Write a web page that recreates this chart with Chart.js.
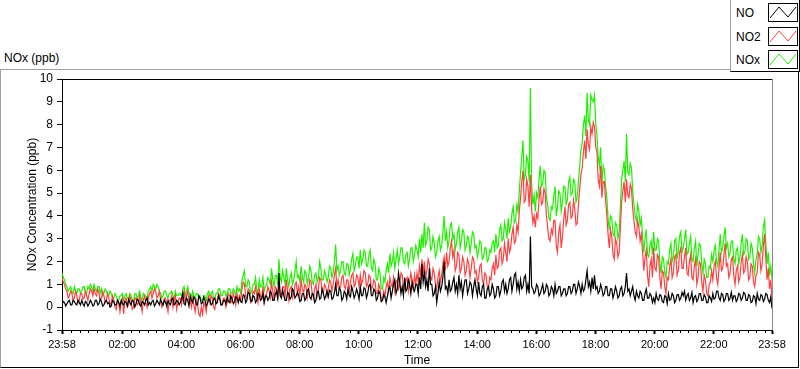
<!DOCTYPE html>
<html>
<head>
<meta charset="utf-8">
<script src="https://cdn.jsdelivr.net/npm/chart.js@4/dist/chart.umd.min.js"></script>
<style>
  body { margin: 0; background: #fff; font-family: "Liberation Sans", Arial, sans-serif; }
  #wrap { position: relative; width: 800px; height: 369px; overflow: hidden; }
  #frame { position: absolute; left: 0; top: 69px; width: 797px; height: 297px;
    border-top: 1px solid #a0a0a0; border-left: 1px solid #a0a0a0;
    border-right: 1px solid #000; border-bottom: 1px solid #000; }
  #title { position: absolute; left: 4px; top: 51px; font-size: 12px; line-height: 14px; color: #000; }
  #legend { position: absolute; left: 730px; top: 0; width: 68px; height: 71px; background: #fff;
    border-left: 1px solid #a0a0a0; border-right: 1px solid #000; border-bottom: 1px solid #000; z-index: 2; }
  .item { position: absolute; left: 0; width: 68px; height: 20px; }
  .item span { position: absolute; left: 5px; top: 3px; font-size: 12px; line-height: 14px; color: #000; }
  .item svg { position: absolute; left: 37px; top: 0; }
  canvas { position: absolute; left: 0; top: 0; }
</style>
</head>
<body>
<div id="wrap">
  <div id="frame"></div>
  <div id="title">NOx (ppb)</div>
  <div id="legend"></div>
  <canvas id="myChart" width="800" height="369"></canvas>
</div>
<script>
// samples every 2.5 minutes from 23:58 to 23:58 (one row per hour)
const STEP = 2.5

const NO = [
  0.1, 0.25, 0.2, 0.05, 0.15, 0.25, 0.3, 0.1, 0.1, 0.3, 0.25, 0.15, 0.1, 0.3, 0.2, 0.1, 0.3, 0.15, 0.05, 0.25, 0.2, 0.05, 0.15, 0.3,
  0.2, 0.05, 0.1, 0.3, 0.3, 0.1, 0.15, 0.35, 0.25, 0.05, 0.1, 0.25, 0.3, 0.15, 0.2, 0.0, 0.05, 0.3, 0.25, 0.1, 0.1, 0.3, 0.2, 0.05,
  0.3, 0.15, 0.1, 0.25, 0.2, 0.05, 0.35, 0.2, 0.1, 0.3, 0.25, 0.0, 0.15, 0.35, 0.3, 0.1, 0.05, 0.25, 0.2, 0.1, 0.3, 0.4, 0.1, 0.2,
  0.1, 0.25, 0.3, 0.05, 0.15, 0.3, 0.2, 0.1, 0.35, 0.2, 0.1, 0.3, 0.2, 0.05, 0.3, 0.15, 0.1, 0.35, 0.4, 0.1, 0.15, 0.3, 0.25, 0.1,
  0.2, 0.35, 0.6, 0.15, 0.1, 0.4, 0.3, 0.05, 0.5, 0.3, 0.2, 0.45, 0.35, 0.1, 0.1, 0.5, 0.4, 0.15, 0.2, 0.45, 0.3, 0.05, 0.15, 0.35,
  0.3, 0.1, 0.15, 0.35, 0.4, 0.15, 0.2, 0.5, 0.35, 0.1, 0.1, 0.3, 0.3, 0.15, 0.45, 0.25, 0.2, 0.5, 0.35, 0.15, 0.25, 0.45, 0.4, 0.2,
  0.4, 0.25, 0.2, 0.55, 0.5, 0.2, 0.3, 0.65, 0.6, 0.3, 0.25, 0.5, 0.45, 0.2, 0.3, 0.6, 0.55, 0.3, 0.35, 0.6, 0.2, 0.45, 0.5, 0.3,
  0.4, 0.7, 0.6, 0.3, 0.3, 0.55, 0.7, 0.4, 1.5, 0.5, 0.4, 0.75, 0.5, 0.3, 0.3, 0.65, 0.6, 0.35, 0.45, 0.8, 0.7, 0.4, 0.5, 0.65,
  0.5, 0.25, 0.3, 0.6, 0.6, 0.3, 0.4, 0.75, 0.8, 0.45, 0.35, 0.6, 0.55, 0.2, 0.3, 0.65, 0.7, 0.35, 0.4, 0.8, 0.6, 0.35, 0.5, 0.7,
  0.45, 0.75, 0.7, 0.35, 0.4, 0.65, 1.0, 0.5, 0.5, 0.85, 0.75, 0.3, 0.4, 0.7, 0.6, 0.35, 0.8, 0.5, 0.45, 0.9, 0.7, 0.4, 0.55, 0.8,
  0.6, 0.35, 0.9, 0.5, 0.5, 0.85, 0.8, 0.4, 0.6, 0.95, 1.0, 0.5, 0.5, 0.8, 0.7, 0.3, 0.4, 0.7, 0.6, 0.25, 0.3, 0.55, 0.45, 0.2,
  0.5, 0.8, 0.9, 0.4, 0.7, 1.0, 1.2, 0.6, 0.8, 1.5, 1.1, 0.6, 0.9, 0.5, 1.3, 0.7, 0.8, 1.2, 1.0, 0.6, 1.1, 0.8, 0.7, 1.0,
  1.0, 0.6, 1.3, 0.8, 1.9, 1.1, 1.5, 0.9, 1.2, 0.7, 1.7, 1.0, 1.0, 0.5, 0.6, 0.9, 0.2, 0.6, 1.1, 0.7, 0.9, 1.3, 2.0, 0.8,
  0.9, 0.6, 1.2, 0.7, 0.8, 1.1, 1.3, 0.7, 1.0, 0.6, 1.4, 0.8, 1.1, 0.5, 0.9, 1.2, 1.2, 0.6, 0.8, 1.1, 1.0, 0.5, 0.9, 1.2,
  0.8, 0.5, 1.1, 0.6, 0.5, 0.9, 1.0, 0.4, 0.4, 0.8, 0.9, 0.5, 0.6, 1.0, 0.8, 0.4, 0.5, 0.9, 0.9, 0.5, 0.7, 1.1, 1.2, 0.7,
  1.0, 0.6, 0.8, 1.2, 1.3, 0.7, 1.0, 1.4, 1.5, 0.8, 1.1, 0.7, 1.2, 0.8, 0.9, 1.3, 1.4, 0.7, 1.0, 0.6, 3.1, 0.9, 0.8, 0.6,
  0.7, 1.0, 0.9, 0.5, 0.6, 0.8, 1.0, 0.6, 0.7, 1.0, 0.9, 0.5, 0.6, 0.9, 0.8, 0.5, 1.0, 0.6, 0.7, 0.9, 0.9, 0.5, 0.6, 0.8,
  0.8, 0.5, 0.6, 0.9, 0.9, 0.6, 0.7, 1.0, 1.0, 0.6, 0.8, 1.1, 0.9, 0.6, 1.0, 0.7, 0.8, 1.2, 1.6, 0.9, 1.1, 0.7, 1.3, 0.8,
  1.4, 0.8, 0.9, 0.6, 0.7, 1.0, 0.8, 0.5, 0.6, 0.9, 0.9, 0.5, 0.5, 0.8, 0.8, 0.4, 0.6, 0.9, 0.7, 0.4, 0.5, 0.8, 0.9, 0.5,
  0.6, 0.9, 1.5, 0.7, 0.8, 0.5, 0.7, 0.9, 0.5, 0.3, 0.7, 0.5, 0.4, 0.7, 0.6, 0.3, 0.3, 0.6, 0.8, 0.4, 0.4, 0.6, 0.5, 0.2,
  0.4, 0.2, 0.6, 0.35, 0.3, 0.55, 0.5, 0.25, 0.2, 0.5, 0.45, 0.15, 0.6, 0.3, 0.35, 0.6, 0.5, 0.2, 0.3, 0.55, 0.55, 0.3, 0.4, 0.65,
  0.5, 0.7, 0.3, 0.5, 0.6, 0.3, 0.4, 0.65, 0.2, 0.45, 0.5, 0.25, 0.35, 0.6, 0.6, 0.3, 0.3, 0.55, 0.45, 0.2, 0.2, 0.5, 0.4, 0.25,
  0.6, 0.35, 0.4, 0.7, 0.7, 0.4, 0.3, 0.6, 0.55, 0.25, 0.35, 0.6, 0.6, 0.3, 0.4, 0.65, 0.3, 0.5, 0.5, 0.25, 0.35, 0.6, 0.55, 0.3,
  0.4, 0.65, 0.6, 0.3, 0.3, 0.55, 0.5, 0.2, 0.25, 0.5, 0.45, 0.15, 0.6, 0.35, 0.3, 0.55, 0.5, 0.25, 0.35, 0.6, 0.55, 0.3, 0.2, 0.45, -0.05
]

const NO2 = [
  1.3, 1.1, 1.0, 0.8, 0.7, 0.4, 0.5, 0.7, 0.6, 0.3, 0.4, 0.7, 0.5, 0.2, 0.3, 0.6, 0.6, 0.35, 0.4, 0.7, 0.5, 0.3, 0.6, 0.8,
  0.7, 0.5, 0.8, 0.6, 0.5, 0.8, 0.6, 0.3, 0.4, 0.7, 0.5, 0.2, 0.3, 0.6, 0.4, 0.1, 0.2, 0.5, 0.3, 0.0, -0.1, 0.3, 0.2, -0.2,
  0.2, 0.4, -0.3, 0.3, 0.4, 0.0, 0.1, 0.5, 0.3, -0.1, 0.0, 0.4, 0.4, 0.1, 0.2, 0.5, 0.1, -0.2, 0.3, 0.5, 0.2, 0.0, 0.4, 0.6,
  0.7, 0.4, 0.6, 0.8, 0.7, 0.4, 0.5, 0.7, 0.3, 0.0, 0.1, 0.4, 0.4, 0.1, -0.2, 0.3, 0.3, 0.5, 0.0, 0.3, 0.5, -0.1, 0.2, 0.4,
  0.4, 0.1, 0.5, 0.7, 0.2, 0.5, 0.7, 0.3, 0.3, 0.0, 0.4, 0.1, -0.2, 0.3, 0.1, -0.3, -0.4, 0.0, -0.3, 0.2, 0.1, -0.2, 0.3, 0.5,
  0.2, 0.5, 0.4, 0.0, -0.1, 0.3, 0.3, 0.6, 0.5, 0.1, 0.1, 0.4, 0.4, 0.0, 0.2, 0.6, 0.5, 0.2, 0.3, 0.6, 0.4, 0.1, 0.6, 0.3,
  0.5, 0.3, 0.8, 1.1, 1.0, 0.5, 0.4, 0.8, 0.7, 0.2, 0.3, 0.7, 0.6, 0.9, 0.5, 0.2, 0.8, 0.5, 0.4, 0.9, 0.2, 0.5, 0.6, 0.9,
  0.7, 0.4, 1.1, 0.7, 0.4, 0.9, 0.8, 0.3, 1.0, 0.6, 0.5, 0.9, 0.9, 0.5, 1.2, 0.7, 0.3, 0.8, 0.9, 0.4, 0.6, 1.0, 1.1, 0.6,
  0.9, 0.5, 1.2, 0.8, 0.6, 1.0, 0.9, 0.4, 0.7, 1.2, 1.1, 0.6, 0.4, 0.8, 1.0, 0.5, 0.8, 1.3, 1.2, 0.7, 0.6, 1.0, 0.9, 0.5,
  0.8, 1.2, 1.1, 0.7, 1.0, 1.4, 1.7, 0.9, 1.2, 0.8, 0.9, 1.3, 1.4, 0.9, 0.8, 1.2, 1.2, 0.7, 1.1, 1.4, 1.5, 0.9, 1.0, 1.4,
  1.3, 0.9, 1.4, 1.0, 1.2, 1.6, 1.5, 0.9, 1.0, 1.4, 1.3, 0.8, 0.9, 1.2, 1.1, 0.6, 0.6, 1.0, 0.8, 0.3, 0.3, 0.7, 0.5, 0.9,
  1.1, 0.7, 1.3, 1.0, 0.9, 1.3, 0.7, 1.1, 1.2, 0.8, 1.0, 1.5, 1.4, 0.9, 0.8, 1.2, 1.3, 0.7, 1.1, 1.5, 1.2, 0.8, 1.4, 1.0,
  1.5, 1.1, 1.8, 1.4, 2.1, 1.5, 2.0, 1.3, 1.6, 2.1, 1.9, 1.3, 1.2, 1.7, 1.5, 1.0, 0.8, 1.3, 1.6, 1.1, 1.4, 1.9, 2.2, 1.6,
  2.4, 1.8, 2.0, 2.6, 2.9, 2.2, 2.5, 1.6, 1.8, 2.4, 2.3, 1.5, 1.7, 2.2, 2.0, 1.4, 1.6, 2.1, 1.9, 1.3, 1.7, 2.2, 2.1, 1.5,
  1.6, 1.1, 1.3, 1.8, 1.9, 1.2, 1.0, 1.5, 1.4, 0.9, 0.8, 1.3, 1.2, 1.7, 1.9, 1.4, 2.3, 1.7, 1.8, 2.5, 2.6, 1.9, 2.1, 2.8,
  2.4, 2.0, 3.0, 2.4, 2.6, 3.2, 3.5, 2.8, 2.9, 3.6, 3.3, 4.2, 4.8, 5.5, 6.0, 4.6, 4.7, 5.6, 5.3, 4.4, 5.8, 4.3, 3.7, 4.0,
  3.5, 4.1, 3.9, 4.7, 5.3, 4.5, 4.6, 5.2, 5.0, 4.0, 3.5, 3.0, 2.9, 3.4, 3.2, 3.8, 3.8, 2.7, 2.4, 3.3, 3.6, 2.6, 3.1, 3.8,
  4.4, 3.6, 3.8, 4.5, 4.6, 3.9, 4.0, 4.7, 4.3, 3.6, 3.7, 4.5, 5.2, 5.8, 6.1, 6.8, 7.3, 6.5, 7.8, 7.1, 6.9, 7.9, 7.6, 8.1,
  7.9, 7.0, 6.8, 5.6, 5.3, 6.2, 4.8, 5.5, 5.5, 4.7, 4.0, 3.2, 2.6, 3.4, 3.1, 2.3, 2.1, 3.0, 2.8, 2.2, 2.4, 3.5, 4.6, 5.1,
  5.5, 4.6, 5.6, 4.9, 4.8, 5.4, 5.2, 4.3, 3.8, 3.3, 3.1, 3.8, 3.5, 2.9, 3.2, 2.4, 1.6, 2.2, 2.5, 1.4, 0.9, 1.8, 2.1, 1.3,
  2.6, 1.7, 1.6, 2.3, 2.2, 1.3, 0.8, 1.6, 1.5, 0.9, 0.6, 1.3, 1.2, 1.8, 2.1, 1.3, 1.5, 2.2, 2.3, 1.4, 1.6, 2.4, 2.6, 1.7,
  1.7, 2.2, 2.6, 1.5, 1.4, 2.0, 2.3, 1.3, 1.2, 1.8, 2.1, 1.0, 1.3, 2.0, 1.9, 1.1, 0.7, 1.4, 1.2, 0.6, 0.5, 1.0, 1.1, 1.6,
  1.2, 1.8, 2.0, 1.3, 1.0, 1.7, 2.4, 1.6, 1.7, 2.3, 2.8, 1.8, 1.9, 1.3, 1.5, 2.1, 2.2, 1.4, 1.0, 1.6, 1.8, 1.1, 1.3, 2.0,
  2.3, 1.5, 1.6, 2.2, 2.0, 1.2, 1.3, 1.9, 1.8, 1.1, 0.9, 1.4, 1.5, 2.4, 2.3, 1.6, 1.9, 2.7, 3.2, 2.1, 1.2, 1.7, 0.8, 1.2, 0.3
]

const NOX = [
  1.5, 1.3, 1.2, 1.0, 0.9, 0.7, 0.8, 0.9, 0.7, 0.6, 0.9, 0.7, 0.6, 0.8, 0.8, 0.6, 0.7, 0.9, 0.9, 0.6, 0.6, 0.9, 0.8, 1.0,
  0.9, 0.7, 1.0, 0.8, 0.7, 0.9, 0.9, 0.6, 0.8, 0.5, 0.6, 0.8, 0.7, 0.5, 0.5, 0.7, 0.6, 0.4, 0.4, 0.6, 0.5, 0.3, 0.3, 0.5,
  0.5, 0.6, 0.3, 0.5, 0.6, 0.4, 0.4, 0.6, 0.5, 0.3, 0.3, 0.6, 0.6, 0.4, 0.5, 0.7, 0.4, 0.3, 0.6, 0.5, 0.5, 0.4, 0.7, 0.8,
  0.9, 0.7, 1.0, 0.9, 0.8, 1.0, 0.9, 0.7, 0.6, 0.4, 0.5, 0.7, 0.7, 0.5, 0.4, 0.6, 0.6, 0.7, 0.5, 0.4, 0.7, 0.5, 0.5, 0.6,
  0.6, 0.5, 0.8, 0.9, 0.5, 0.7, 0.9, 0.6, 0.6, 0.4, 0.7, 0.5, 0.4, 0.6, 0.6, 0.4, 0.5, 0.3, 0.3, 0.5, 0.5, 0.3, 0.6, 0.7,
  0.5, 0.6, 0.7, 0.4, 0.4, 0.6, 0.6, 0.8, 0.8, 0.5, 0.5, 0.7, 0.7, 0.5, 0.6, 0.8, 0.8, 0.6, 0.6, 0.8, 0.7, 0.5, 0.9, 0.7,
  0.8, 0.6, 1.2, 1.4, 1.6, 0.9, 0.9, 1.2, 1.1, 0.6, 0.7, 1.0, 1.0, 1.3, 0.8, 0.6, 1.2, 0.9, 0.9, 1.3, 0.7, 0.9, 1.0, 1.3,
  1.2, 1.0, 1.7, 1.2, 0.9, 1.4, 1.4, 1.0, 2.1, 1.3, 1.1, 1.6, 1.3, 1.0, 1.7, 1.2, 0.9, 1.3, 1.5, 1.0, 1.2, 1.6, 2.0, 1.3,
  1.4, 1.1, 1.8, 1.3, 1.1, 1.6, 1.5, 1.0, 1.3, 1.8, 1.6, 1.1, 1.0, 1.4, 1.5, 1.1, 1.3, 2.0, 1.7, 1.2, 1.2, 1.6, 1.4, 1.1,
  1.3, 1.8, 1.7, 1.3, 1.5, 2.0, 2.75, 1.6, 1.8, 1.4, 1.6, 2.0, 2.0, 1.5, 1.4, 1.9, 1.9, 1.4, 1.7, 2.1, 2.35, 1.6, 1.8, 2.2,
  2.2, 1.7, 2.5, 1.9, 2.1, 2.5, 2.4, 1.8, 1.8, 2.3, 2.5, 1.7, 1.6, 2.1, 1.9, 1.2, 1.2, 1.7, 1.5, 0.8, 0.8, 1.3, 1.1, 1.6,
  1.9, 1.5, 2.35, 1.8, 2.0, 2.4, 1.7, 2.1, 2.5, 1.9, 2.2, 2.6, 2.6, 2.0, 1.9, 2.3, 2.4, 1.8, 2.1, 2.6, 2.6, 2.0, 2.3, 2.7,
  2.5, 2.2, 3.0, 2.4, 3.2, 2.6, 3.7, 2.7, 2.9, 3.5, 3.4, 2.5, 2.6, 3.1, 2.8, 2.2, 2.4, 2.9, 3.1, 2.5, 2.7, 3.3, 4.0, 2.9,
  3.3, 2.6, 2.9, 3.6, 3.7, 3.0, 3.2, 2.5, 2.8, 3.3, 3.5, 2.6, 2.9, 3.4, 3.3, 2.5, 2.7, 3.1, 3.0, 2.4, 2.8, 3.3, 3.2, 2.6,
  2.7, 2.2, 2.5, 2.9, 2.8, 2.1, 2.2, 2.6, 2.6, 2.0, 2.1, 2.5, 2.4, 2.8, 2.9, 2.4, 3.2, 2.6, 2.7, 3.4, 3.6, 2.9, 3.0, 3.7,
  3.4, 3.0, 3.9, 3.3, 3.5, 4.1, 4.4, 3.7, 3.8, 4.5, 4.2, 5.1, 5.9, 6.6, 7.3, 5.6, 5.8, 6.6, 6.4, 5.5, 9.6, 5.4, 4.5, 4.9,
  4.2, 5.0, 4.8, 5.6, 6.2, 5.3, 5.4, 6.0, 5.9, 4.8, 4.5, 3.9, 3.8, 4.4, 4.3, 4.9, 5.3, 4.0, 4.4, 5.1, 5.0, 4.2, 4.6, 5.3,
  5.3, 4.5, 4.7, 5.5, 5.7, 4.9, 5.0, 5.6, 5.5, 4.6, 4.8, 5.5, 6.2, 6.9, 7.2, 8.0, 8.4, 7.5, 9.4, 8.2, 8.0, 9.3, 9.1, 9.0,
  9.3, 8.1, 7.5, 6.6, 6.2, 7.0, 5.4, 6.2, 6.0, 5.3, 4.8, 3.9, 3.4, 4.0, 3.9, 3.2, 3.1, 3.7, 3.6, 3.0, 3.3, 4.4, 5.6, 6.0,
  6.4, 5.5, 7.6, 5.9, 5.8, 6.3, 6.1, 5.1, 4.5, 4.0, 3.8, 4.5, 4.2, 3.6, 3.9, 3.1, 2.4, 3.0, 3.4, 2.3, 2.2, 2.7, 2.9, 2.3,
  3.3, 2.5, 2.5, 3.0, 2.9, 2.0, 1.5, 2.2, 2.1, 1.5, 1.3, 2.0, 1.9, 2.5, 2.8, 2.0, 2.2, 2.9, 3.0, 2.1, 2.5, 3.1, 3.3, 2.4,
  2.6, 3.0, 3.4, 2.3, 2.4, 2.8, 3.1, 2.1, 2.0, 2.6, 2.9, 1.8, 2.3, 2.8, 2.7, 1.9, 1.5, 2.1, 1.9, 1.3, 1.3, 1.8, 1.7, 2.3,
  2.0, 2.5, 2.7, 2.0, 1.8, 2.5, 3.2, 2.4, 2.6, 3.1, 3.5, 2.6, 2.8, 2.2, 2.4, 2.9, 2.9, 2.1, 1.9, 2.5, 2.6, 1.9, 2.2, 2.8,
  3.2, 2.3, 2.4, 3.0, 2.9, 2.1, 2.2, 2.8, 2.6, 1.9, 1.5, 2.1, 2.3, 3.1, 3.0, 2.4, 2.7, 3.5, 3.8, 2.8, 1.9, 2.4, 1.4, 1.8, 1.2
]

// time axis (minutes after 23:58)
const tickValues = [0, 122, 242, 362, 482, 602, 722, 842, 962, 1082, 1202, 1322, 1440]
const tickLabels = ['23:58', '02:00', '04:00', '06:00', '08:00', '10:00', '12:00',
  '14:00', '16:00', '18:00', '20:00', '22:00', '23:58']
const MINOR_PER_MAJOR = 7

const seriesNames = ['NO', 'NO2', 'NOx']
const seriesColors = ['#000000', '#ff4040', '#1ff000']

const toPoints = arr => arr.map((v, i) => ({ x: i * STEP, y: v }))

// custom legend
const legend = document.getElementById('legend')
seriesNames.forEach((name, i) => {
  const item = document.createElement('div')
  item.className = 'item'
  item.style.top = (3 + i * 23.5) + 'px'
  item.innerHTML = '<span>' + name + '</span>' +
    '<svg width="30" height="19"><rect x="0.5" y="0.5" width="29" height="18" fill="#fff" stroke="#000"/>' +
    '<polyline points="2,15 11,4 20,14 28,4" fill="none" stroke="' + seriesColors[i] + '" stroke-width="1"/></svg>'
  legend.appendChild(item)
})

const frameLines = {
  id: 'frameLines',
  afterDraw(chart) {
    const { ctx, chartArea: a, scales } = chart
    ctx.save()
    ctx.lineWidth = 1
    ctx.strokeStyle = '#000'
    ctx.beginPath()
    ctx.moveTo(a.left, a.top + 0.5)
    ctx.lineTo(a.right, a.top + 0.5)
    ctx.stroke()
    ctx.strokeStyle = '#8a8a8a'
    ctx.beginPath()
    ctx.moveTo(a.right + 0.5, a.top)
    ctx.lineTo(a.right + 0.5, a.bottom)
    ctx.stroke()
    // minor ticks on the time axis
    const x = scales.x
    const span = tickValues[2] - tickValues[1]
    const stepMinor = span / MINOR_PER_MAJOR
    ctx.strokeStyle = '#000'
    ctx.beginPath()
    for (let v = tickValues[1] - stepMinor * 7; v <= 1440; v += stepMinor) {
      if (v < 0) continue
      const rel = (v - tickValues[1]) / span
      if (Math.abs(rel - Math.round(rel)) < 0.01) continue
      const px = Math.round(x.getPixelForValue(v)) + 0.5
      ctx.moveTo(px, a.bottom)
      ctx.lineTo(px, a.bottom + 3)
    }
    ctx.stroke()
    ctx.restore()
  }
}

const ctx = document.getElementById('myChart')
const myChart = new Chart(ctx, {
  type: 'line',
  data: {
    datasets: [NO, NO2, NOX].map((arr, i) => ({
      label: seriesNames[i],
      data: toPoints(arr),
      borderColor: seriesColors[i],
      borderWidth: 1.2,
      pointRadius: 0,
      tension: 0,
      fill: false
    }))
  },
  options: {
    responsive: false,
    animation: false,
    events: [],
    layout: { padding: { top: 79, right: 28, left: 0, bottom: 0 } },
    plugins: { legend: { display: false }, tooltip: { enabled: false } },
    scales: {
      x: {
        type: 'linear',
        min: 0,
        max: 1440,
        afterBuildTicks: s => { s.ticks = tickValues.map(v => ({ value: v })) },
        afterFit: s => { s.height = 39 },
        ticks: {
          autoSkip: false,
          maxRotation: 0,
          padding: 4,
          color: '#000',
          font: { family: 'Liberation Sans', size: 11 },
          callback: v => tickLabels[tickValues.indexOf(v)]
        },
        grid: { drawOnChartArea: false, drawTicks: true, tickLength: 4, tickWidth: 2, tickColor: '#000' },
        border: { display: true, color: '#000', width: 1 },
        title: {
          display: true,
          text: 'Time',
          color: '#000',
          font: { family: 'Liberation Sans', size: 12 },
          padding: { top: 0, bottom: 1 }
        }
      },
      y: {
        min: -1,
        max: 10,
        afterFit: s => { s.width = 62 },
        ticks: {
          stepSize: 1,
          padding: 4,
          color: '#000',
          font: { family: 'Liberation Sans', size: 12 }
        },
        grid: { drawOnChartArea: false, drawTicks: true, tickLength: 5, tickColor: '#000' },
        border: { display: true, color: '#000', width: 1 },
        title: {
          display: true,
          text: 'NOx Concentration (ppb)',
          color: '#000',
          font: { family: 'Liberation Sans', size: 12 },
          padding: { top: 25, bottom: 0 }
        }
      }
    }
  },
  plugins: [frameLines]
})
</script>
</body>
</html>
